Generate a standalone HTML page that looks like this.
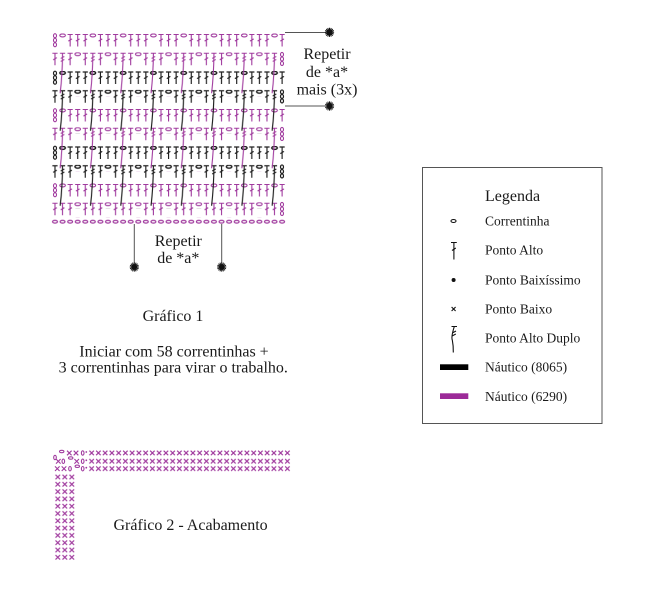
<!DOCTYPE html>
<html><head><meta charset="utf-8"><style>
html,body{margin:0;padding:0;background:#fff;}
svg{display:block;}
text{font-family:"Liberation Serif",serif;fill:#1a1a1a;}
</style></head><body>
<svg width="659" height="603" viewBox="0 0 659 603" xmlns="http://www.w3.org/2000/svg">
<defs>
 <pattern id="pAp" patternUnits="userSpaceOnUse" width="30.28" height="15">
  <g fill="none" stroke="#a03a9e" stroke-width="1.1">
   <ellipse cx="3.785" cy="1.9" rx="2.8" ry="1.5"/>
   <path d="M8.755 1H13.955M11.355 1V13M9.555 7.6L13.155 5.4M16.325 1H21.525M18.925 1V13M17.125 7.6L20.725 5.4M23.895 1H29.095M26.495 1V13M24.695 7.6L28.295 5.4"/>
  </g>
 </pattern>
 <pattern id="pAk" patternUnits="userSpaceOnUse" width="30.28" height="15">
  <g fill="none" stroke="#1e1e1e" stroke-width="1.15">
   <ellipse cx="3.785" cy="1.9" rx="2.8" ry="1.5" stroke-width="1.4"/>
   <path d="M8.755 1H13.955M11.355 1V13M9.555 7.6L13.155 5.4M16.325 1H21.525M18.925 1V13M17.125 7.6L20.725 5.4M23.895 1H29.095M26.495 1V13M24.695 7.6L28.295 5.4"/>
  </g>
 </pattern>
 <pattern id="pBp" patternUnits="userSpaceOnUse" width="30.28" height="44">
  <g fill="none" stroke="#a03a9e" stroke-width="1.1">
   <path d="M1.185 1H6.385M3.785 1V13M1.985 7.6L5.585 5.4"/>
   <path d="M8.755 1H13.955M11.355 1Q11.2 22 9 41M9.555 6.2L13.155 4.2M9.555 9.2L13.155 7.2"/>
   <path d="M16.325 1H21.525M18.925 1V13M17.125 7.6L20.725 5.4"/>
   <ellipse cx="26.495" cy="1.9" rx="2.8" ry="1.5"/>
  </g>
 </pattern>
 <pattern id="pBk" patternUnits="userSpaceOnUse" width="30.28" height="44">
  <g fill="none" stroke="#1e1e1e" stroke-width="1.15">
   <path d="M1.185 1H6.385M3.785 1V13M1.985 7.6L5.585 5.4"/>
   <path d="M8.755 1H13.955M11.355 1Q11.2 22 9 41M9.555 6.2L13.155 4.2M9.555 9.2L13.155 7.2"/>
   <path d="M16.325 1H21.525M18.925 1V13M17.125 7.6L20.725 5.4"/>
   <ellipse cx="26.495" cy="1.9" rx="2.8" ry="1.5" stroke-width="1.4"/>
  </g>
 </pattern>
 <pattern id="pCp" patternUnits="userSpaceOnUse" width="30.28" height="15">
  <g fill="none" stroke="#a03a9e" stroke-width="1.1">
   <path d="M1.185 1H6.385M3.785 1V13M1.985 7.6L5.585 5.4M8.755 1H13.955M11.355 1V13M9.555 7.6L13.155 5.4M16.325 1H21.525M18.925 1V13M17.125 7.6L20.725 5.4"/>
   <ellipse cx="26.495" cy="1.9" rx="2.8" ry="1.5"/>
  </g>
 </pattern>
 <pattern id="pF" patternUnits="userSpaceOnUse" width="7.57" height="6">
  <ellipse cx="3.785" cy="3" rx="2.4" ry="1.4" fill="none" stroke="#a03a9e" stroke-width="1.3"/>
 </pattern>
 <g id="tcp" fill="none" stroke="#a03a9e" stroke-width="1.1">
  <ellipse cx="0" cy="2.2" rx="1.5" ry="2"/><ellipse cx="0" cy="6.7" rx="1.5" ry="2"/><ellipse cx="0" cy="11.2" rx="1.5" ry="2"/>
 </g>
 <g id="tck" fill="none" stroke="#1e1e1e" stroke-width="1.2">
  <ellipse cx="0" cy="2.2" rx="1.5" ry="2"/><ellipse cx="0" cy="6.7" rx="1.5" ry="2"/><ellipse cx="0" cy="11.2" rx="1.5" ry="2"/>
 </g>
 <pattern id="pX" patternUnits="userSpaceOnUse" width="6.75" height="8">
  <path d="M1.1 1.7L5.6 6.2M1.1 6.2L5.6 1.7" stroke="#a03a9e" stroke-width="1.15"/>
 </pattern>
 <pattern id="pX2" patternUnits="userSpaceOnUse" width="7" height="7.3">
  <path d="M1.2 1.4L5.8 5.9M1.2 5.9L5.8 1.4" stroke="#a03a9e" stroke-width="1.15"/>
 </pattern>
 <g id="st">
  <circle r="2.7" fill="#111"/>
  <path d="M0 -4.6V4.6M-4.6 0H4.6M-3.3 -3.3L3.3 3.3M-3.3 3.3L3.3 -3.3M-1.8 -4.3L1.8 4.3M-4.3 -1.8L4.3 1.8M-1.8 4.3L1.8 -4.3M-4.3 1.8L4.3 -1.8" stroke="#111" stroke-width="1"/>
 </g>
</defs>

<rect width="659" height="603" fill="#fff"/>

<!-- foundation chain -->
<g transform="translate(51.215,218.7)"><rect width="234.67" height="6" fill="url(#pF)"/></g>

<!-- row 10 -->
<g transform="translate(51.2,202.25)"><rect width="227.1" height="15" fill="url(#pCp)"/></g>
<use href="#tcp" x="282" y="202.25"/>
<!-- row 9 -->
<g transform="translate(58.8,183.5)"><rect width="227.1" height="15" fill="url(#pAp)"/></g>
<use href="#tcp" x="55" y="183.5"/>
<!-- row 8 -->
<g transform="translate(51.2,164.75)"><rect width="227.1" height="44" fill="url(#pBk)"/></g>
<use href="#tck" x="282" y="164.75"/>
<!-- row 7 -->
<g transform="translate(58.8,146)"><rect width="227.1" height="15" fill="url(#pAk)"/></g>
<use href="#tck" x="55" y="146"/>
<!-- row 6 -->
<g transform="translate(51.2,127.25)"><rect width="227.1" height="44" fill="url(#pBp)"/></g>
<use href="#tcp" x="282" y="127.25"/>
<!-- row 5 -->
<g transform="translate(58.8,108.5)"><rect width="227.1" height="15" fill="url(#pAp)"/></g>
<use href="#tcp" x="55" y="108.5"/>
<!-- row 4 -->
<g transform="translate(51.2,89.75)"><rect width="227.1" height="44" fill="url(#pBk)"/></g>
<use href="#tck" x="282" y="89.75"/>
<!-- row 3 -->
<g transform="translate(58.8,71)"><rect width="227.1" height="15" fill="url(#pAk)"/></g>
<use href="#tck" x="55" y="71"/>
<!-- row 2 -->
<g transform="translate(51.2,52.25)"><rect width="227.1" height="44" fill="url(#pBp)"/></g>
<use href="#tcp" x="282" y="52.25"/>
<!-- row 1 -->
<g transform="translate(58.8,33.5)"><rect width="227.1" height="15" fill="url(#pAp)"/></g>
<use href="#tcp" x="55" y="33.5"/>

<path d="M285 32.5H326M285 106H326M134.3 224V263M221.7 224V263" stroke="#555" stroke-width="1" fill="none"/>
<use href="#st" x="329.5" y="32.3"/>
<use href="#st" x="329.5" y="106"/>
<use href="#st" x="134.3" y="267"/>
<use href="#st" x="221.7" y="267"/>

<text x="327" y="59" font-size="16" text-anchor="middle">Repetir</text>
<text x="327" y="77" font-size="16" text-anchor="middle">de *a*</text>
<text x="327" y="94.5" font-size="16" text-anchor="middle">mais (3x)</text>

<text x="178.3" y="246" font-size="16" text-anchor="middle">Repetir</text>
<text x="178.3" y="263" font-size="16" text-anchor="middle">de *a*</text>

<text x="173" y="321" font-size="16" text-anchor="middle">Gráfico 1</text>
<text x="174" y="356.7" font-size="16" text-anchor="middle">Iniciar com 58 correntinhas +</text>
<text x="173.3" y="372.3" font-size="16" text-anchor="middle">3 correntinhas para virar o trabalho.</text>

<!-- Legend -->
<rect x="422.5" y="167.5" width="179.5" height="256" fill="none" stroke="#555" stroke-width="1"/>
<text x="485" y="201" font-size="16">Legenda</text>

<ellipse cx="453.5" cy="221" rx="2.5" ry="1.5" fill="none" stroke="#111" stroke-width="1.1"/>
<text x="485" y="225.5" font-size="13.5">Correntinha</text>

<path d="M451 242.5H456.8M453.9 242.5V259.5M452 250.5L455.8 248" stroke="#111" stroke-width="1.1" fill="none"/>
<text x="485" y="254.5" font-size="13.5">Ponto Alto</text>

<circle cx="453.6" cy="280" r="2" fill="#111"/>
<text x="485" y="284.5" font-size="13.5">Ponto Baixíssimo</text>

<path d="M451.6 307L455.6 311M451.6 311L455.6 307" stroke="#111" stroke-width="1.1"/>
<text x="485" y="313.5" font-size="13.5">Ponto Baixo</text>

<path d="M451.5 326.5H457M454.3 326.5Q451 337 452.3 340Q453.5 346 453.3 352.5M452.3 333L456 331M452.1 336L455.8 334" stroke="#111" stroke-width="1.1" fill="none"/>
<text x="485" y="342.5" font-size="13.5">Ponto Alto Duplo</text>

<rect x="440" y="364.3" width="28.3" height="5.7" fill="#000"/>
<text x="485" y="371.5" font-size="13.5">Náutico (8065)</text>

<rect x="440" y="393.3" width="28.3" height="5.7" fill="#9c2a98"/>
<text x="485" y="400.8" font-size="13.5">Náutico (6290)</text>

<!-- Gráfico 2 -->
<g transform="translate(88.3,449)"><rect width="202.5" height="8" fill="url(#pX)"/></g>
<g transform="translate(88.3,457.3)"><rect width="202.5" height="8" fill="url(#pX)"/></g>
<g transform="translate(88.3,464.7)"><rect width="202.5" height="8" fill="url(#pX)"/></g>
<g transform="translate(54.3,473.35)"><rect width="21" height="87.6" fill="url(#pX2)"/></g>

<g fill="none" stroke="#a03a9e" stroke-width="1.1">
 <ellipse cx="55" cy="457.5" rx="1.3" ry="2.2"/>
 <ellipse cx="61.7" cy="451.5" rx="2.2" ry="1.2"/>
 <path d="M67 450.7L71.6 455.3M67 455.3L71.6 450.7M73.7 450.7L78.3 455.3M73.7 455.3L78.3 450.7"/>
 <ellipse cx="82.7" cy="453" rx="1.3" ry="2.2"/>
 <path d="M56 459L60.6 463.6M56 463.6L60.6 459M74.4 459L79 463.6M74.4 463.6L79 459"/>
 <ellipse cx="63.3" cy="461.3" rx="1.3" ry="2.2"/>
 <ellipse cx="70.7" cy="458" rx="2.2" ry="1.2"/>
 <ellipse cx="82.7" cy="461.3" rx="1.3" ry="2.2"/>
 <path d="M55 466.4L59.6 471M55 471L59.6 466.4M61.7 466.4L66.3 471M61.7 471L66.3 466.4"/>
 <ellipse cx="70" cy="468.7" rx="1.3" ry="2.2"/>
 <ellipse cx="77.3" cy="466.3" rx="2.2" ry="1.2"/>
 <ellipse cx="82.7" cy="468.7" rx="1.3" ry="2.2"/>
</g>
<g fill="#a03a9e">
 <circle cx="86.3" cy="452" r="0.9"/>
 <circle cx="86.3" cy="460.3" r="0.9"/>
 <circle cx="86.3" cy="467.7" r="0.9"/>
</g>

<text x="113.5" y="530" font-size="16">Gráfico 2 - Acabamento</text>
</svg>
</body></html>
